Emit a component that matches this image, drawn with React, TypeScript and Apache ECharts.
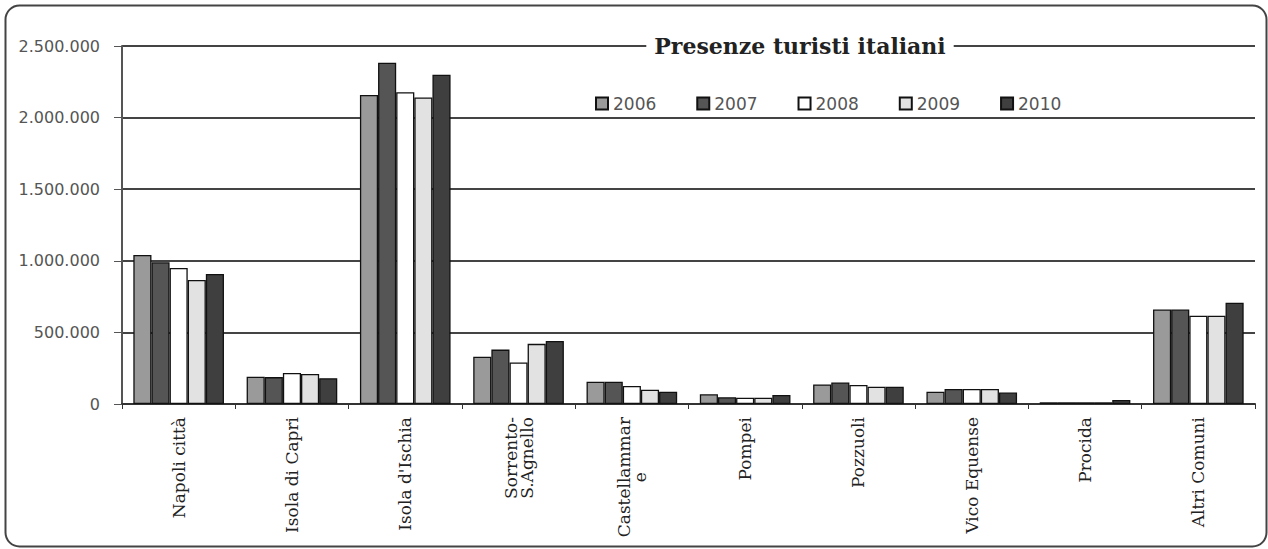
import React, { useEffect, useRef } from "react";
import * as echarts from "echarts";

const categories = [
  "Napoli città",
  "Isola di Capri",
  "Isola d'Ischia",
  "Sorrento-\nS.Agnello",
  "Castellammar\ne",
  "Pompei",
  "Pozzuoli",
  "Vico Equense",
  "Procida",
  "Altri Comuni",
];
const years = ["2006", "2007", "2008", "2009", "2010"];
const v2006 = [1040000, 190000, 2158000, 330000, 156000, 68000, 137000, 86000, 12000, 660000];
const v2007 = [990000, 188000, 2383000, 380000, 156000, 47000, 150000, 105000, 12000, 660000];
const v2008 = [950000, 216000, 2177000, 290000, 126000, 44000, 133000, 105000, 12000, 617000];
const v2009 = [866000, 210000, 2140000, 420000, 100000, 44000, 120000, 105000, 12000, 617000];
const v2010 = [908000, 180000, 2300000, 440000, 86000, 63000, 120000, 80000, 28000, 707000];
const yTicks = [0, 500000, 1000000, 1500000, 2000000, 2500000];
const colors = ["#9a9a9a", "#555555", "#ffffff", "#e2e2e2", "#3f3f3f"];

export default function App() {
  const ref = useRef<HTMLDivElement>(null);
  useEffect(() => {
    if (!ref.current) return;
    const chart = echarts.init(ref.current, undefined, { renderer: "svg" });
    const values = [v2006, v2007, v2008, v2009, v2010];
    const fmt = (v: number) => String(v).replace(/\B(?=(\d{3})+(?!\d))/g, ".");
    chart.setOption({
      animation: false,
      backgroundColor: "#ffffff",
      title: {
        text: "Presenze turisti italiani",
        left: 792,
        textAlign: "center",
        top: 34,
        padding: [1, 8],
        backgroundColor: "#ffffff",
        textStyle: {
          fontFamily: "DejaVu Serif",
          fontWeight: "bold",
          fontSize: 22,
          color: "#222",
        },
      },
      legend: {
        data: years,
        left: 590,
        top: 90,
        itemWidth: 12,
        itemHeight: 12,
        itemGap: 40,
        icon: "rect",
        textStyle: { fontFamily: "DejaVu Sans", fontSize: 17, color: "#555" },
      },
      grid: { left: 122, right: 13, top: 46, bottom: 145 },
      xAxis: {
        type: "category",
        data: categories,
        axisLine: { lineStyle: { color: "#333", width: 2 } },
        axisTick: { show: true, length: 5, lineStyle: { color: "#333" } },
        axisLabel: {
          rotate: 90,
          interval: 0,
          margin: 13,
          fontFamily: "DejaVu Serif",
          fontSize: 17,
          color: "#222",
          lineHeight: 16,
          formatter: (v: string) =>
            v.indexOf("\n") >= 0
              ? v
                  .split("\n")
                  .map((s) => "{c|" + s + "}")
                  .join("\n")
              : v,
          rich: {
            c: {
              align: "center",
              fontFamily: "DejaVu Serif",
              fontSize: 17,
              color: "#222",
              lineHeight: 16,
            },
          },
        },
      },
      yAxis: {
        type: "value",
        min: 0,
        max: 2500000,
        interval: 500000,
        axisLine: { show: true, lineStyle: { color: "#555", width: 2 } },
        axisTick: { show: true, length: 8, lineStyle: { color: "#555" } },
        axisLabel: {
          formatter: (v: number) => (yTicks.includes(v) ? fmt(v) : ""),
          fontFamily: "DejaVu Sans",
          fontSize: 16,
          color: "#555",
          margin: 22,
        },
        splitLine: { lineStyle: { color: "#444", width: 2 } },
      },
      series: years.map((y, i) => ({
        name: y,
        type: "bar",
        data: values[i],
        barGap: "0%",
        barCategoryGap: "20%",
        itemStyle: { color: colors[i], borderColor: "#111", borderWidth: 1.3 },
      })),
      graphic: [
        {
          type: "rect",
          left: 3,
          top: 3,
          shape: { width: 1261, height: 541, r: 14 },
          style: { fill: "none", stroke: "#444", lineWidth: 2 },
          silent: true,
        },
      ],
    });
    return () => chart.dispose();
  }, []);
  return (
    <div
      ref={ref}
      style={{ position: "fixed", left: 0, top: 0, width: 1268, height: 549 }}
    />
  );
}
